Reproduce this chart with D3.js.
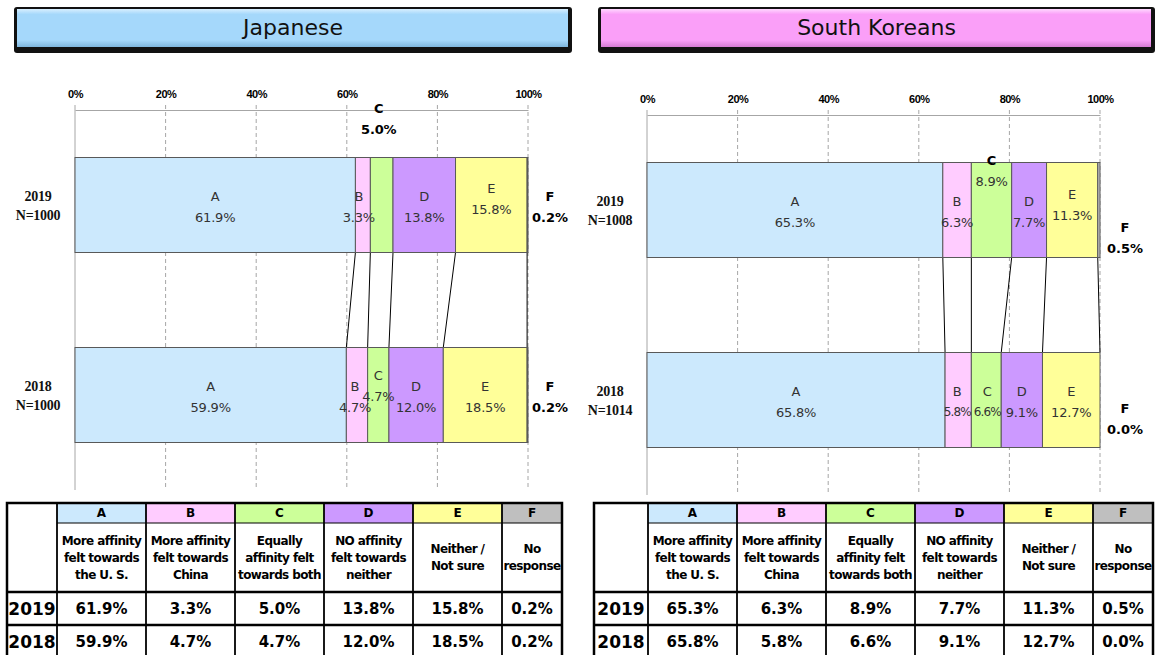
<!DOCTYPE html>
<html>
<head>
<meta charset="utf-8">
<script src="https://cdn.jsdelivr.net/npm/d3@7"></script>
<style>
  body { margin: 0; background: #fff; }
</style>
</head>
<body>
<div id="chart"></div>
<script>
// categories and their descriptions (table header)
const categories = ["A", "B", "C", "D", "E", "F"];
const descriptions = [
  ["More affinity", "felt towards", "the U. S."],
  ["More affinity", "felt towards", "China"],
  ["Equally", "affinity felt", "towards both"],
  ["NO affinity", "felt towards", "neither"],
  ["Neither /", "Not sure"],
  ["No", "response"]
];
const years = ["2019", "2018"];
const jpSamples = ["N=1000", "N=1000"];
const krSamples = ["N=1008", "N=1014"];

// shares in %
const jp2019 = [61.9, 3.3, 5.0, 13.8, 15.8, 0.2];
const jp2018 = [59.9, 4.7, 4.7, 12.0, 18.5, 0.2];
const kr2019 = [65.3, 6.3, 8.9, 7.7, 11.3, 0.5];
const kr2018 = [65.8, 5.8, 6.6, 9.1, 12.7, 0.0];

const tickValues = [0, 20, 40, 60, 80, 100];

const colors = ["#cce9fd", "#ffccff", "#ccff99", "#cc99ff", "#ffff99", "#bfbfbf"];

// labels that were moved by hand in the original
const labelNudges = {
  jp: {
    "2019": { C: { dx: -3, dy: -88, bold: true }, E: { dy: -8 }, B: { dx: -4 } },
    "2018": { C: { dy: -11 }, B: { dx: -2 } }
  },
  kr: {
    "2019": { C: { dy: -41, boldLetter: true }, E: { dy: -7 }, F: { dx: 3, dy: 26 } },
    "2018": { B: { dx: -1, compact: true }, C: { dx: 1, compact: true }, F: { dx: 3, dy: 17 } }
  }
};

const width = 1159;
const height = 655;

const svg = d3
  .select("#chart")
  .append("svg")
  .attr("width", width)
  .attr("height", height)
  .style("font-family", "'DejaVu Sans', sans-serif");

const defs = svg.append("defs");

function addGradient(id, light, base, dark) {
  const lg = defs
    .append("linearGradient")
    .attr("id", id)
    .attr("x1", 0)
    .attr("y1", 0)
    .attr("x2", 0)
    .attr("y2", 1);
  lg.append("stop").attr("offset", "0%").attr("stop-color", light);
  lg.append("stop").attr("offset", "14%").attr("stop-color", base);
  lg.append("stop").attr("offset", "82%").attr("stop-color", base);
  lg.append("stop").attr("offset", "100%").attr("stop-color", dark);
}

addGradient("gradJp", "#d8efff", "#a5d8fb", "#7fb6dc");
addGradient("gradKr", "#ffd8ff", "#fa9ff8", "#d57cd3");

const panels = [
  {
    key: "jp",
    title: "Japanese",
    grad: "gradJp",
    hx: 14,
    hw: 558,
    plotX: [75, 528],
    plotY: [110, 490],
    samples: jpSamples,
    values: [jp2019, jp2018],
    tableX: 7,
    firstW: 50
  },
  {
    key: "kr",
    title: "South Koreans",
    grad: "gradKr",
    hx: 598,
    hw: 557,
    plotX: [647, 1100],
    plotY: [115, 495],
    samples: krSamples,
    values: [kr2019, kr2018],
    tableX: 594,
    firstW: 54
  }
];

const fmt = (v) => d3.format(".1f")(v) + "%";

panels.forEach((p) => {
  const g = svg.append("g");

  // Title box
  g.append("rect")
    .attr("x", p.hx)
    .attr("y", 7)
    .attr("width", p.hw)
    .attr("height", 46)
    .attr("rx", 3)
    .attr("fill", "#111");
  g.append("rect")
    .attr("x", p.hx + 3)
    .attr("y", 9)
    .attr("width", p.hw - 7)
    .attr("height", 38)
    .attr("fill", `url(#${p.grad})`);
  g.append("text")
    .attr("x", p.hx + p.hw / 2)
    .attr("y", 27)
    .attr("text-anchor", "middle")
    .attr("dominant-baseline", "central")
    .attr("font-size", 22)
    .attr("fill", "#111")
    .text(p.title);

  // Scales
  const x = d3.scaleLinear().domain([0, 100]).range(p.plotX);
  const y = d3
    .scaleBand()
    .domain(years)
    .range(p.plotY)
    .paddingInner(0.5)
    .paddingOuter(0.25);

  // Grid
  g.append("g")
    .selectAll("line")
    .data(tickValues.filter((t) => t > 0))
    .join("line")
    .attr("x1", (d) => x(d))
    .attr("x2", (d) => x(d))
    .attr("y1", p.plotY[0] - 5)
    .attr("y2", p.plotY[1])
    .attr("stroke", "#a6a6a6")
    .attr("stroke-dasharray", "4,3");

  g.append("line")
    .attr("x1", x(0))
    .attr("x2", x(0))
    .attr("y1", p.plotY[0] - 5)
    .attr("y2", p.plotY[1])
    .attr("stroke", "#a6a6a6");

  // Top axis
  const axis = g
    .append("g")
    .attr("transform", `translate(0,${p.plotY[0]})`)
    .call(
      d3
        .axisTop(x)
        .tickValues(tickValues)
        .tickFormat((d) => d + "%")
        .tickSize(0)
        .tickSizeOuter(0)
        .tickPadding(12)
    );
  axis.select(".domain").attr("stroke", "#a6a6a6");
  axis
    .selectAll("text")
    .attr("font-family", "'Liberation Sans', Arial, sans-serif")
    .attr("font-weight", "bold")
    .attr("font-size", 11)
    .attr("letter-spacing", -0.5)
    .attr("fill", "#000");

  // Stacked data
  const rows = years.map((yr, i) => {
    const r = { year: yr };
    categories.forEach((c, j) => (r[c] = p.values[i][j]));
    return r;
  });
  const series = d3.stack().keys(categories)(rows);

  // Series lines between bars
  g.append("g")
    .selectAll("line")
    .data(series.slice(0, 5))
    .join("line")
    .attr("x1", (s) => x(s[0][1]))
    .attr("y1", y(years[0]) + y.bandwidth())
    .attr("x2", (s) => x(s[1][1]))
    .attr("y2", y(years[1]))
    .attr("stroke", "#000")
    .attr("stroke-width", 1);

  // Bars
  g.append("g")
    .selectAll("g")
    .data(series)
    .join("g")
    .attr("fill", (s, i) => colors[i])
    .selectAll("rect")
    .data((s) => s)
    .join("rect")
    .attr("x", (d) => x(d[0]))
    .attr("y", (d) => y(d.data.year))
    .attr("width", (d) => x(d[1]) - x(d[0]))
    .attr("height", y.bandwidth())
    .attr("stroke", "#595959")
    .attr("stroke-width", 1);

  // Segment labels
  const lab = g.append("g");
  series.forEach((s) => {
    const cat = s.key;
    s.forEach((d) => {
      const yr = d.data.year;
      const n = (labelNudges[p.key][yr] || {})[cat] || {};
      const isF = cat === "F";
      const cx = (isF ? x(100) + 22 : (x(d[0]) + x(d[1])) / 2) + (n.dx || 0);
      const cy = y(yr) + y.bandwidth() / 2 - 9 + (n.dy || 0);
      const bold = isF || n.bold;
      lab.append("text")
        .attr("x", cx)
        .attr("y", cy)
        .attr("text-anchor", "middle")
        .attr("dominant-baseline", "central")
        .attr("font-size", 13)
        .attr("font-weight", bold || n.boldLetter ? "bold" : "normal")
        .attr("fill", bold || n.boldLetter ? "#000" : "#333")
        .text(cat);
      lab.append("text")
        .attr("x", cx)
        .attr("y", cy + 21)
        .attr("text-anchor", "middle")
        .attr("dominant-baseline", "central")
        .attr("font-size", n.compact ? 12 : 13)
        .attr("letter-spacing", isF ? 0 : n.compact ? -0.9 : -0.2)
        .attr("font-weight", bold ? "bold" : "normal")
        .attr("fill", bold ? "#000" : "#333")
        .text(fmt(d.data[cat]));
    });
  });

  // Category labels
  const cl = g.append("g");
  years.forEach((yr, i) => {
    const mid = y(yr) + y.bandwidth() / 2;
    [yr, p.samples[i]].forEach((t, k) => {
      cl.append("text")
        .attr("x", x(0) - 37)
        .attr("y", mid - 9 + k * 19)
        .attr("text-anchor", "middle")
        .attr("dominant-baseline", "central")
        .attr("font-family", "'Liberation Serif', serif")
        .attr("font-weight", "bold")
        .attr("font-size", 14)
        .attr("letter-spacing", -0.3)
        .attr("fill", "#111")
        .text(t);
    });
  });

  drawTable(g, p);
});

function drawTable(g, p) {
  const widths = [p.firstW, 89, 89, 89, 89, 89, 60];
  const edges = [p.tableX];
  widths.forEach((w) => edges.push(edges[edges.length - 1] + w));
  const rowEdges = [503, 523, 592, 625, 658];
  const t = g.append("g");

  // letter cells
  t.selectAll("rect.letter")
    .data(categories)
    .join("rect")
    .attr("class", "letter")
    .attr("x", (d, i) => edges[i + 1])
    .attr("y", rowEdges[0])
    .attr("width", (d, i) => widths[i + 1])
    .attr("height", rowEdges[1] - rowEdges[0])
    .attr("fill", (d, i) => colors[i]);

  t.selectAll("text.letter")
    .data(categories)
    .join("text")
    .attr("class", "letter")
    .attr("x", (d, i) => edges[i + 1] + widths[i + 1] / 2)
    .attr("y", (rowEdges[0] + rowEdges[1]) / 2)
    .attr("text-anchor", "middle")
    .attr("dominant-baseline", "central")
    .attr("font-size", 12)
    .attr("font-weight", "bold")
    .text((d) => d);

  // descriptions
  const descMid = (rowEdges[1] + rowEdges[2]) / 2;
  descriptions.forEach((lines, i) => {
    lines.forEach((line, k) => {
      t.append("text")
        .attr("x", edges[i + 1] + widths[i + 1] / 2)
        .attr("y", descMid + (k - (lines.length - 1) / 2) * 17)
        .attr("text-anchor", "middle")
        .attr("dominant-baseline", "central")
        .attr("font-size", 12)
        .attr("font-weight", "bold")
        .attr("letter-spacing", -0.6)
        .text(line);
    });
  });

  // values
  years.forEach((yr, r) => {
    const mid = (rowEdges[r + 2] + rowEdges[r + 3]) / 2;
    t.append("text")
      .attr("x", edges[0] + widths[0] / 2)
      .attr("y", mid)
      .attr("text-anchor", "middle")
      .attr("dominant-baseline", "central")
      .attr("font-size", 17)
      .attr("font-weight", "bold")
      .text(yr);
    p.values[r].forEach((v, i) => {
      t.append("text")
        .attr("x", edges[i + 1] + widths[i + 1] / 2)
        .attr("y", mid)
        .attr("text-anchor", "middle")
        .attr("dominant-baseline", "central")
        .attr("font-size", 15)
        .attr("font-weight", "bold")
        .text(fmt(v));
    });
  });

  // borders
  t.append("line")
    .attr("x1", edges[1]).attr("x2", edges[7])
    .attr("y1", rowEdges[1]).attr("y2", rowEdges[1])
    .attr("stroke", "#000").attr("stroke-width", 1);
  [rowEdges[2], rowEdges[3]].forEach((yy) => {
    t.append("line")
      .attr("x1", edges[0]).attr("x2", edges[7])
      .attr("y1", yy).attr("y2", yy)
      .attr("stroke", "#000").attr("stroke-width", 2.5);
  });
  edges.slice(1, 7).forEach((xx) => {
    t.append("line")
      .attr("x1", xx).attr("x2", xx)
      .attr("y1", rowEdges[0]).attr("y2", rowEdges[4])
      .attr("stroke", "#000").attr("stroke-width", 1.8);
  });
  t.append("rect")
    .attr("x", edges[0])
    .attr("y", rowEdges[0])
    .attr("width", edges[7] - edges[0])
    .attr("height", rowEdges[4] - rowEdges[0])
    .attr("fill", "none")
    .attr("stroke", "#000")
    .attr("stroke-width", 2.5);
}
</script>
</body>
</html>
